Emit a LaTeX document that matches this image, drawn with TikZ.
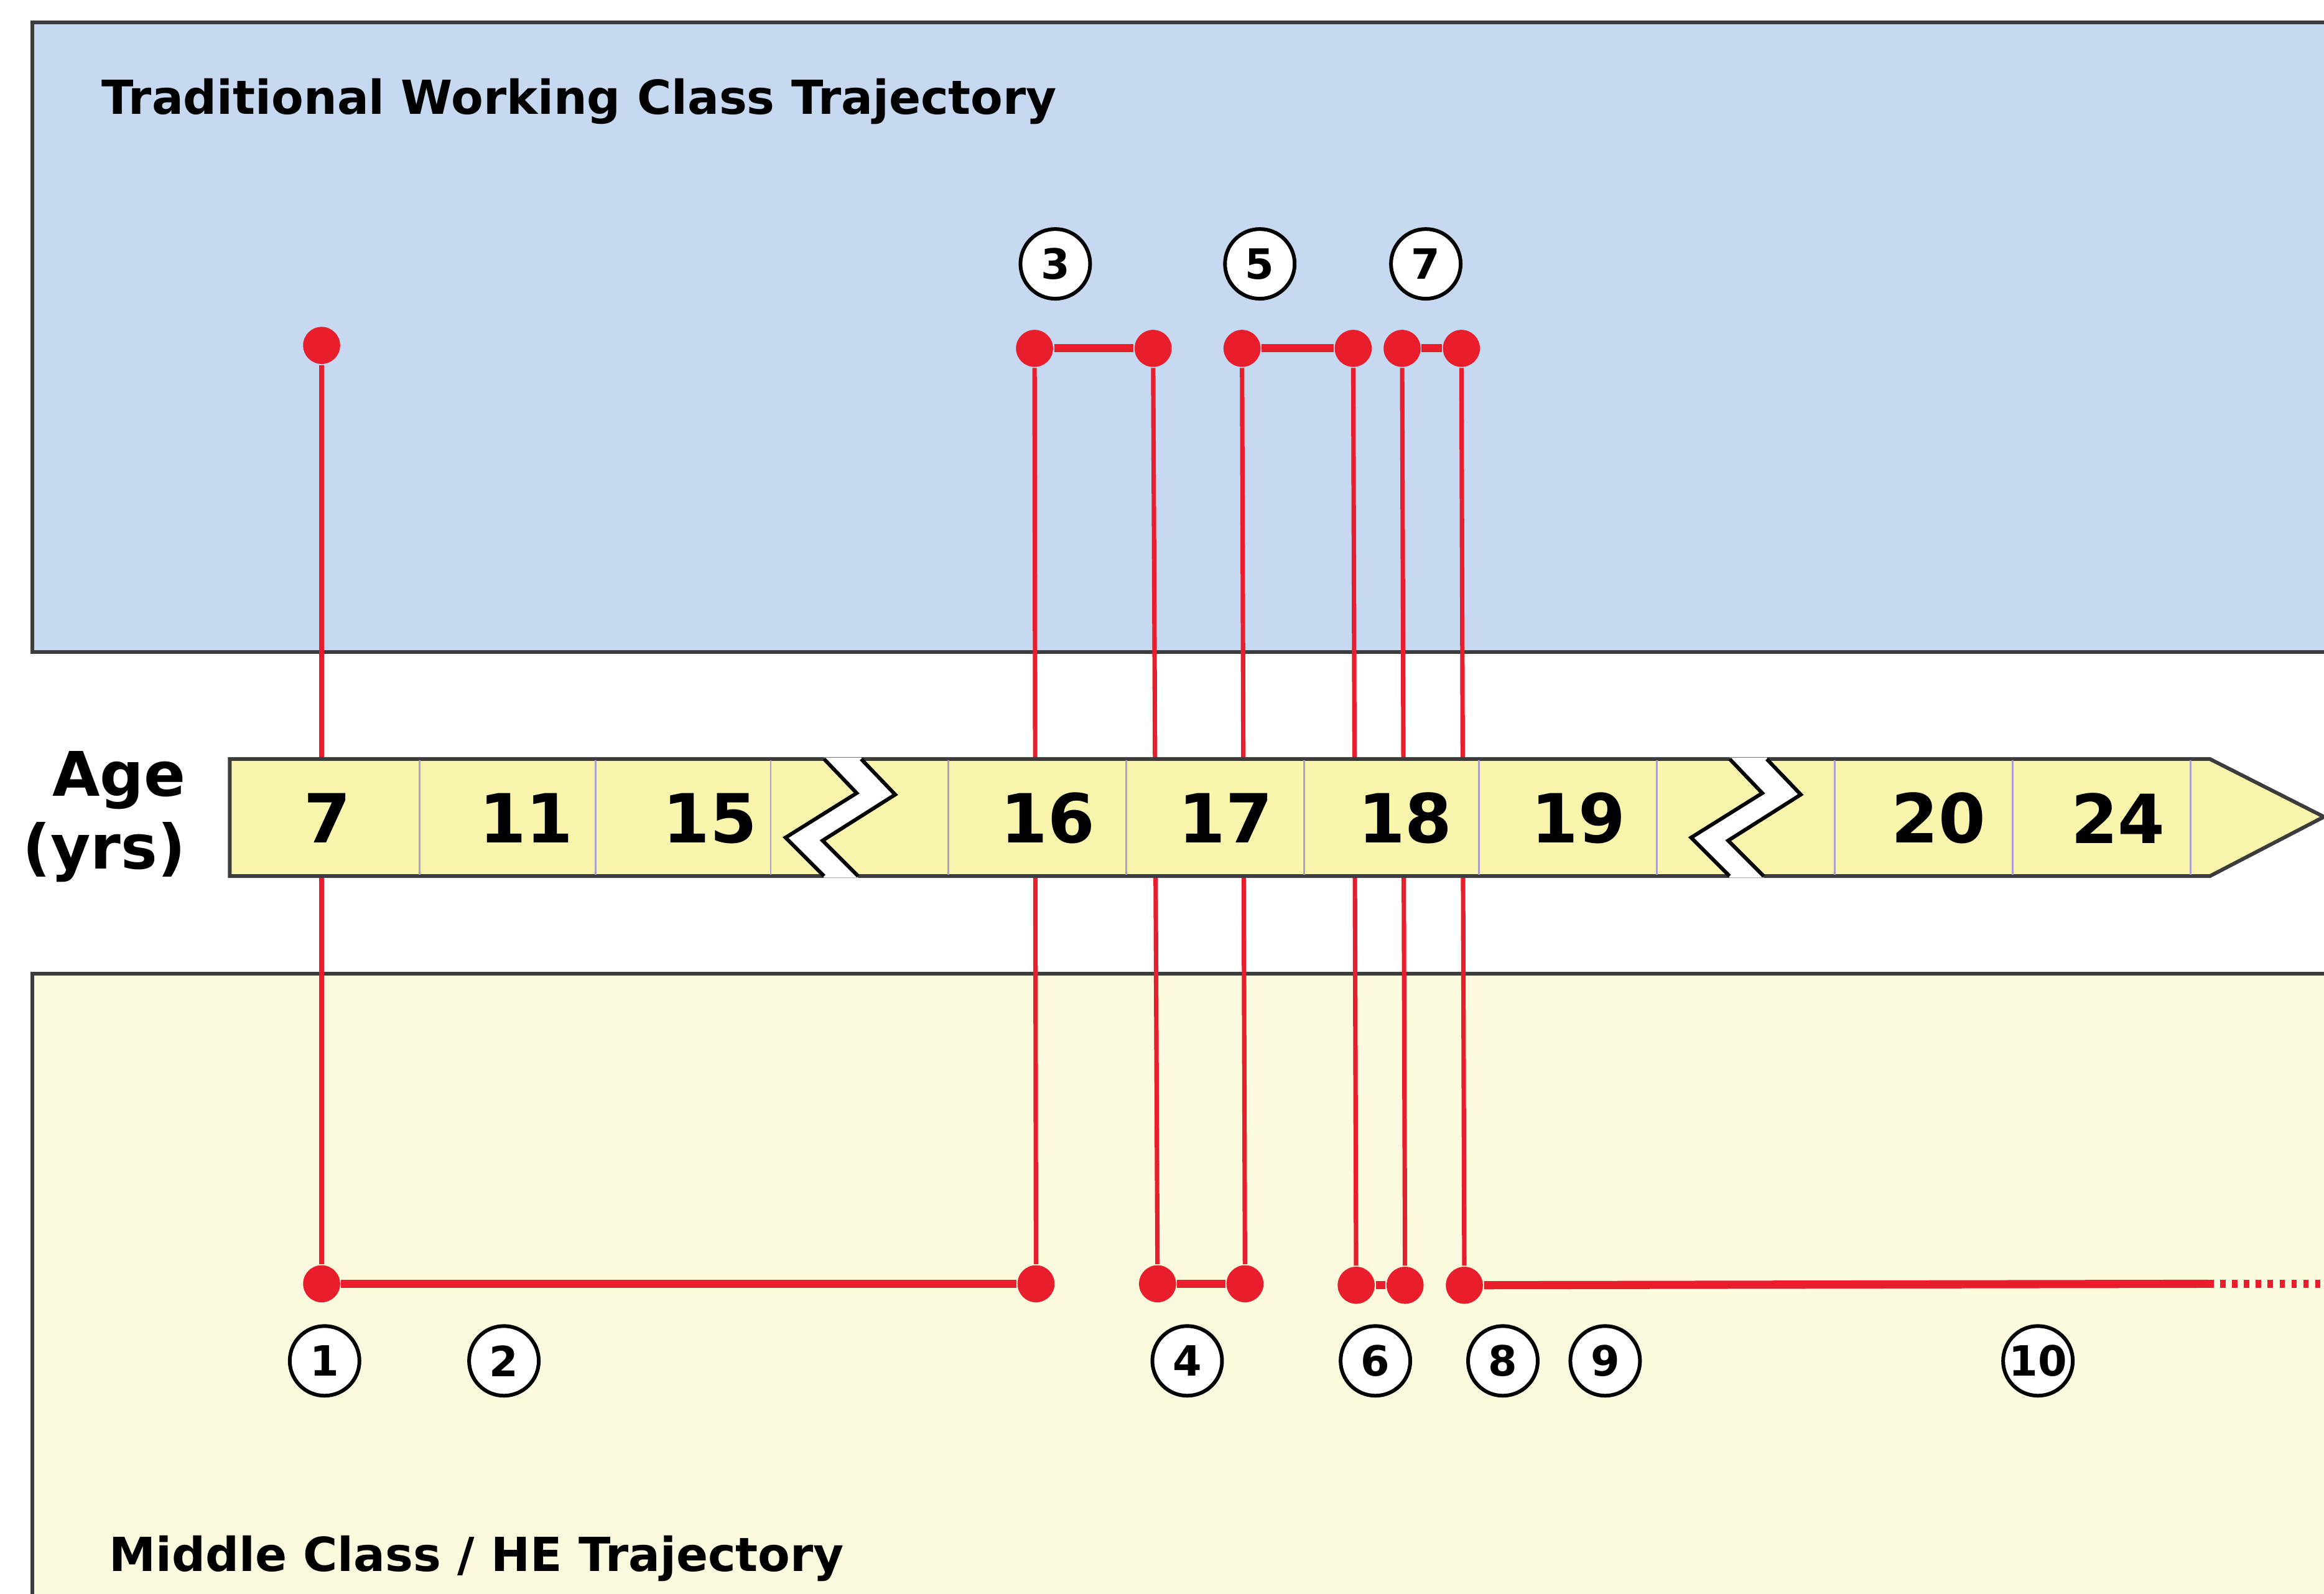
\documentclass[tikz,border=0pt]{standalone}
\usepackage{fontspec}
\setmainfont{DejaVu Sans}
\definecolor{wcblue}{RGB}{198,217,241}
\definecolor{mcyellow}{RGB}{251,250,222}
\definecolor{baryellow}{RGB}{249,245,172}
\definecolor{trackred}{RGB}{232,30,45}
\definecolor{cellline}{RGB}{172,160,205}
\definecolor{edgegray}{RGB}{60,60,60}

\begin{document}
\begin{tikzpicture}[x=0.1mm, y=-0.1mm, font=\bfseries]
    \tikzstyle{panel} = [draw=edgegray, line width=0.25mm]
    \tikzstyle{heading} = [anchor=base west, inner sep=0pt,
        font=\fontsize{9}{10}\selectfont\bfseries]
    \tikzstyle{agecell} = [inner sep=0pt,
        font=\fontsize{13}{14}\selectfont\bfseries]
    \tikzstyle{dot} = [circle, fill=trackred, inner sep=0pt, minimum size=2.5mm]
    \tikzstyle{marker} = [circle, draw=black, line width=0.25mm, fill=white,
        inner sep=0pt, minimum size=4.7mm, font=\fontsize{8}{8}\selectfont\bfseries]
    \tikzstyle{rise} = [draw=trackred, line width=0.3mm]
    \tikzstyle{stay} = [draw=trackred, line width=0.55mm]

    \useasboundingbox (0,0) rectangle (1568,1075);
    \clip (0,0) rectangle (1568,1075);

    % the two trajectory panels
    \path [panel, fill=wcblue] (1600,15) -- (22,15) -- (22,440) -- (1600,440);
    \path [panel, fill=mcyellow] (1600,657) -- (22,657) -- (22,1100) -- (1600,1100);
    \node [heading] (wctitle) at (68,77) {Traditional Working Class Trajectory};
    \node [heading] (mctitle) at (73,1060) {Middle Class / HE Trajectory};

    % turning points
    \foreach \name/\x/\y in {t1/217/233, t2/698/235, t3/778/235, t4/838/235,
        t5/913/235, t6/946/235, t7/986/235,
        b1/217/866, b2/699/866, b3/781/866, b4/840/866,
        b5/915/867, b6/948/867, b7/988/867}
        \node [dot] (\name) at (\x,\y) {};
    \coordinate (fade) at (1490,866);
    \coordinate (edge) at (1580,866);

    \foreach \i in {1,...,7}
        \path [rise] (t\i) -- (b\i);
    \path [stay] (b1) -- (b2);
    \path [stay] (t2) -- (t3);
    \path [stay] (b3) -- (b4);
    \path [stay] (t4) -- (t5);
    \path [stay] (b5) -- (b6);
    \path [stay] (t6) -- (t7);
    \path [stay] (b7) -- (fade);
    \path [stay, dash pattern=on 0.35mm off 0.45mm] (fade) -- (edge);

    % age bar
    \path [draw=edgegray, line width=0.25mm, fill=baryellow]
        (155,512) -- (1491,512) -- (1568,551) -- (1491,591) -- (155,591) -- cycle;
    \foreach \x in {283,402,520,640,760,880,998,1118,1238,1358,1478}
        \draw [cellline, line width=0.12mm] (\x,513) -- (\x,590);
    \foreach \z in {520,1131} {
        \fill [white] (\z+36,511) -- (\z+58,535) -- (\z+10,565) -- (\z+36,592)
            -- (\z+59,592) -- (\z+35,567) -- (\z+84,536) -- (\z+61,511) -- cycle;
        \draw [black, line width=0.25mm] (\z+36,512) -- (\z+58,535) -- (\z+10,565) -- (\z+36,591);
        \draw [black, line width=0.25mm] (\z+61,512) -- (\z+84,536) -- (\z+35,567) -- (\z+59,591);
    }
    \foreach \age/\x in {7/221, 11/355, 15/479, 16/707, 17/827, 18/948, 19/1065, 20/1308, 24/1429}
        \node [agecell] (age\age) at (\x,552) {\age};
    \node [align=right, anchor=east, inner sep=0pt,
        font=\fontsize{11.8}{14}\selectfont\bfseries] (agelabel) at (126,551) {Age\\(yrs)};

    % numbered moments
    \foreach \num/\x/\y in {1/219/918, 2/340/918, 3/712/178, 4/801/918, 5/850/178,
        6/928/918, 7/962/178, 8/1014/918, 9/1083/918, 10/1375/918}
        \node [marker] (m\num) at (\x,\y) {\num};
\end{tikzpicture}
\end{document}
